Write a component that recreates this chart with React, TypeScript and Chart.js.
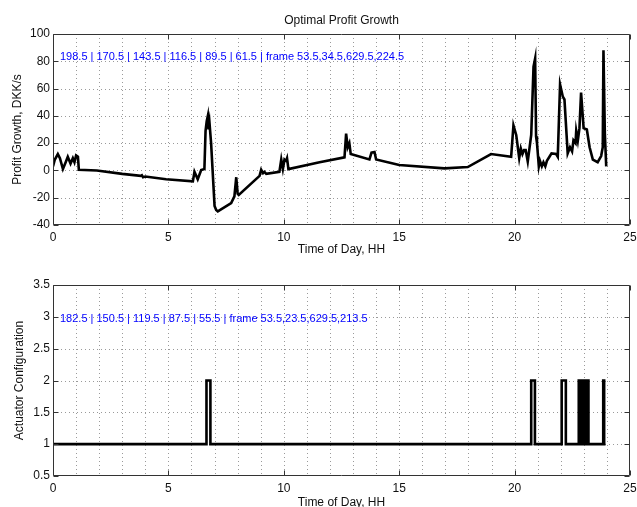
import { useEffect, useRef } from "react";
import { Chart, registerables } from "chart.js";

Chart.register(...registerables);

const FONT = "'Liberation Sans', Arial, Helvetica, sans-serif";
const TEXT = "#111111";
const FRAME = "#333333";
const GRID = "#9a9a9a";

const chartTitle = "Optimal Profit Growth";
const xTitle = "Time of Day, HH";
const profitTitle = "Profit Growth, DKK/s";
const actuatorTitle = "Actuator Configuration";

// ---- Top chart: Optimal Profit Growth ----
const profitHours = [
  0.0, 0.08, 0.21, 0.3, 0.43, 0.55, 0.64, 0.76, 0.86, 0.93, 1.0, 1.08, 1.12,
  1.9, 3.0, 3.8, 3.85, 3.9, 4.0, 4.9, 6.06, 6.13, 6.27, 6.42, 6.56, 6.61,
  6.66, 6.71, 6.74, 6.78, 6.85, 7.0, 7.07, 7.14, 7.72, 7.86, 7.94, 8.0, 8.05,
  8.95, 9.02, 9.1, 9.16, 9.24, 9.81, 9.89, 9.96, 10.03, 10.1, 10.14, 10.2,
  11.55, 12.63, 12.7, 12.77, 12.84, 12.9, 13.71, 13.8, 13.93, 14.0, 15.0,
  16.96, 17.97, 18.98, 19.85, 19.95, 20.07, 20.2, 20.27, 20.34, 20.41, 20.48,
  20.57, 20.72, 20.82, 20.89, 20.93, 20.97, 21.05, 21.1, 21.18, 21.25, 21.33,
  21.4, 21.51, 21.6, 21.8, 21.87, 21.97, 22.09, 22.16, 22.3, 22.4, 22.49,
  22.55, 22.64, 22.67, 22.74, 22.81, 22.88, 22.99, 23.13, 23.25, 23.39, 23.6,
  23.75, 23.82, 23.85, 23.91, 23.97,
];
const profitValues = [
  3, 8, 12, 9, 1, 6, 10, 5, 9, 6, 11, 10, 0.5,
  0, -2.5, -4, -3.5, -5, -4.5, -6.5, -8, -1, -6.5, 0.3, 1, 29,
  36, 40, 30, 35, 20, -26, -29, -30, -24, -19, -5, -17, -18,
  -4, 0.5, -2, -1, -2.5, -1, 8, 1, 8, 7, 9, 1,
  6, 9.6, 27, 17, 20, 12, 8, 13, 13.5, 8, 4,
  1.5, 2.5, 12, 10, 33, 26, 9, 16, 12, 15, 15,
  6.5, 26, 76, 82, 25, 20, 3, 7, 3, 6, 3,
  7, 10, 12.5, 12, 10, 63, 54, 52, 12.5, 17, 14,
  22, 20, 29, 22, 31, 57, 31, 30, 17, 8, 6,
  10.5, 17, 88, 27, 3,
];
const profitTicks = [-40, -20, 0, 20, 40, 60, 80, 100];

const actHours = [
  0, 6.65, 6.82, 20.72, 20.88, 22.04, 22.22,
  22.78, 22.81, 22.84, 22.87, 22.9, 22.93, 22.96, 22.99, 23.02, 23.05, 23.08,
  23.11, 23.14, 23.17, 23.2,
  23.84, 23.88, 23.94,
];
const actValues = [
  1, 2, 1, 2, 1, 2, 1,
  2, 1, 2, 1, 2, 1, 2, 1, 2, 1, 2,
  1, 2, 2, 1,
  2, 1, 1,
];
const actTicks = [0.5, 1, 1.5, 2, 2.5, 3, 3.5];

const hourTicks = [0, 5, 10, 15, 20, 25];
const hourMin = 0;
const hourMax = 25;

function makeFramePlugin(yTicks: number[]) {
  const msgs: string[] = [];
  return {
    id: "matlabFrame",
    beforeDatasetsDraw(chart: any) {
      const { ctx, chartArea: a, scales } = chart;
      const xs = scales.x;
      const ys = scales.y;
      ctx.save();
      try {
        ctx.strokeStyle = GRID;
        ctx.lineWidth = 1;
        ctx.setLineDash([1, 3]);
        for (let h = hourMin + 1; h < hourMax; h++) {
          const px = Math.round(xs.getPixelForValue(h)) + 0.5;
          ctx.beginPath();
          ctx.moveTo(px, a.top);
          ctx.lineTo(px, a.bottom);
          ctx.stroke();
        }
        for (const v of yTicks) {
          if (v <= ys.min || v >= ys.max) continue;
          const py = Math.round(ys.getPixelForValue(v)) + 0.5;
          msgs.push(String(py));
          ctx.beginPath();
          ctx.moveTo(a.left, py);
          ctx.lineTo(a.right, py);
          ctx.stroke();
        }
      } catch (e: any) {
        msgs.push("ERR " + e.message);
      }
      ctx.restore();
    },
    afterDatasetsDraw(chart: any) {
      const { ctx, chartArea: a, scales } = chart;
      const xs = scales.x;
      const ys = scales.y;
      ctx.save();
      try {
        ctx.setLineDash([]);
        ctx.strokeStyle = FRAME;
        ctx.lineWidth = 1;
        const L = Math.round(a.left) + 0.5;
        const T = Math.round(a.top) + 0.5;
        const R = Math.round(a.right) - 0.5;
        const B = Math.round(a.bottom) - 0.5;
        ctx.beginPath();
        ctx.moveTo(L, T);
        ctx.lineTo(R, T);
        ctx.lineTo(R, B);
        ctx.lineTo(L, B);
        ctx.closePath();
        const tl = 5;
        for (const h of hourTicks) {
          const px = Math.round(xs.getPixelForValue(h)) + 0.5;
          ctx.moveTo(px, B);
          ctx.lineTo(px, B - tl);
          ctx.moveTo(px, T);
          ctx.lineTo(px, T + tl);
        }
        for (const v of yTicks) {
          const py = Math.round(ys.getPixelForValue(v)) + 0.5;
          ctx.moveTo(L, py);
          ctx.lineTo(L + tl, py);
          ctx.moveTo(R, py);
          ctx.lineTo(R - tl, py);
        }
        ctx.stroke();
        msgs.push("frame " + [L, T, R, B].join(","));
      } catch (e: any) {
        msgs.push("ERR2 " + e.message);
      }
      ctx.restore();
    },
    afterDraw(chart: any) {
      const ctx = chart.ctx;
      ctx.save();
      ctx.fillStyle = "blue";
      ctx.font = "11px sans-serif";
      ctx.fillText(msgs.join(" | ").slice(0, 120), 60, 60);
      ctx.restore();
    },
  };
}

function makeConfig(opts: any): any {
  const data = opts.hours.map((h: number, i: number) => ({ x: h, y: opts.values[i] }));
  const tickFont = { family: FONT, size: 12 };
  return {
    type: "line",
    data: {
      datasets: [
        {
          data,
          borderColor: "#000000",
          borderWidth: 2.6,
          pointRadius: 0,
          fill: false,
          tension: 0,
          stepped: opts.stepped,
        },
      ],
    },
    plugins: [makeFramePlugin(opts.yTicks)],
    options: {
      responsive: false,
      animation: false,
      devicePixelRatio: 1,
      layout: { padding: { left: 0, right: 7, top: opts.topPad, bottom: 0 } },
      plugins: {
        legend: { display: false },
        tooltip: { enabled: false },
        title: opts.title
          ? {
              display: true,
              text: opts.title,
              color: TEXT,
              fullSize: false,
              font: { family: FONT, size: 12, weight: "normal" },
              padding: { top: 13.8, bottom: 5.8 },
            }
          : { display: false },
      },
      scales: {
        x: {
          type: "linear",
          min: hourMin,
          max: hourMax,
          grid: { display: false, drawTicks: false },
          border: { display: false },
          ticks: {
            autoSkip: false,
            maxRotation: 0,
            padding: 5,
            color: TEXT,
            font: tickFont,
            callback: (v: number) => String(v),
          },
          afterBuildTicks: (s: any) => {
            s.ticks = hourTicks.map((v) => ({ value: v }));
          },
          title: {
            display: true,
            text: xTitle,
            color: TEXT,
            font: tickFont,
            padding: { top: 0, bottom: opts.xTitlePad },
          },
          afterFit: (s: any) => {
            s.height = opts.xHeight;
            s.paddingLeft = 0;
            s.paddingRight = 0;
          },
        },
        y: {
          type: "linear",
          min: opts.yMin,
          max: opts.yMax,
          grid: { display: false, drawTicks: false },
          border: { display: false },
          ticks: {
            autoSkip: false,
            padding: 3,
            color: TEXT,
            font: tickFont,
            callback: (v: number) => String(v),
          },
          afterBuildTicks: (s: any) => {
            s.ticks = opts.yTicks.map((v: number) => ({ value: v }));
          },
          title: {
            display: true,
            text: opts.yTitle,
            color: TEXT,
            font: tickFont,
            padding: { top: opts.yTitlePad, bottom: 0 },
          },
          afterFit: (s: any) => {
            s.width = 53;
            s.paddingTop = 0;
            s.paddingBottom = 0;
          },
        },
      },
    },
  };
}

export default function App() {
  const topRef = useRef<HTMLCanvasElement | null>(null);
  const botRef = useRef<HTMLCanvasElement | null>(null);

  useEffect(() => {
    const top = new Chart(
      topRef.current as HTMLCanvasElement,
      makeConfig({
        hours: profitHours,
        values: profitValues,
        stepped: false,
        yMin: -40,
        yMax: 100,
        yTicks: profitTicks,
        yTitle: profitTitle,
        yTitlePad: 10.3,
        xHeight: 37,
        xTitlePad: 4.8,
        topPad: 0,
        title: chartTitle,
      })
    );
    const bottom = new Chart(
      botRef.current as HTMLCanvasElement,
      makeConfig({
        hours: actHours,
        values: actValues,
        stepped: true,
        yMin: 0.5,
        yMax: 3.5,
        yTicks: actTicks,
        yTitle: actuatorTitle,
        yTitlePad: 12.8,
        xHeight: 46,
        xTitlePad: 11.8,
        topPad: 23,
      })
    );
    return () => {
      top.destroy();
      bottom.destroy();
    };
  }, []);

  return (
    <div
      style={{
        position: "fixed",
        left: 0,
        top: 0,
        width: 637,
        height: 507,
        overflow: "hidden",
        background: "#ffffff",
      }}
    >
      <canvas
        ref={topRef}
        width={637}
        height={262}
        style={{ position: "absolute", left: 0, top: 0, width: 637, height: 262 }}
      />
      <canvas
        ref={botRef}
        width={637}
        height={260}
        style={{ position: "absolute", left: 0, top: 262, width: 637, height: 260 }}
      />
    </div>
  );
}
